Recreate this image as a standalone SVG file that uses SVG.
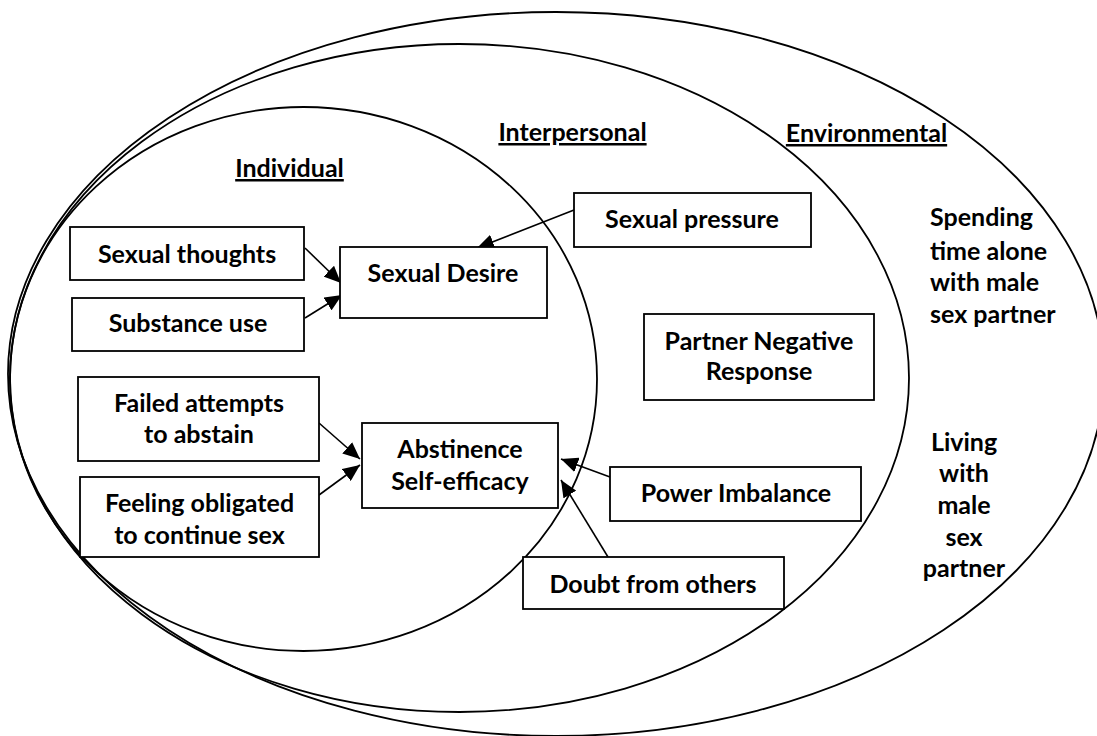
<svg xmlns="http://www.w3.org/2000/svg" width="1097" height="736" viewBox="0 0 1097 736">
<style>
.ring{fill:none;stroke:#000;stroke-width:1.8}
.box{fill:#fff;stroke:#000;stroke-width:1.8}
text{font-family:Lato,"Liberation Sans",sans-serif;font-weight:bold;font-size:25px;fill:#000}
.c{text-anchor:middle}
.h{text-decoration:underline}
.conn{stroke:#000;stroke-width:1.6;fill:none;marker-end:url(#ah)}
</style>
<defs>
<marker id="ah" markerUnits="userSpaceOnUse" markerWidth="17" markerHeight="15" viewBox="0 0 17 15" refX="17" refY="7.5" orient="auto">
<path d="M0,0 L17,7.5 L0,15 Z" fill="#000"/>
</marker>
</defs>
<rect width="1097" height="736" fill="#fff"/>
<g id="rings">
<ellipse id="environmental-ring" class="ring" cx="556" cy="374" rx="548" ry="362"/>
<ellipse id="interpersonal-ring" class="ring" cx="459.5" cy="378" rx="449.5" ry="334"/>
<ellipse id="individual-ring" class="ring" cx="303.5" cy="379" rx="293.5" ry="272"/>
</g>
<g id="headings">
<text class="c h" x="289.5" y="177">Individual</text>
<text class="c h" x="572.5" y="141">Interpersonal</text>
<text class="c h" x="866.5" y="142">Environmental</text>
</g>
<g id="connectors">
<line class="conn" x1="305" y1="248" x2="341" y2="283"/>
<line class="conn" x1="305" y1="318" x2="342" y2="295"/>
<line class="conn" x1="574" y1="210" x2="477" y2="248"/>
<line class="conn" x1="319" y1="423" x2="360" y2="459"/>
<line class="conn" x1="319" y1="495" x2="360" y2="465"/>
<line class="conn" x1="610" y1="477" x2="561" y2="459"/>
<line class="conn" x1="608" y1="557" x2="561" y2="480"/>
</g>
<g id="sexual-thoughts"><rect class="box" x="70" y="227" width="234" height="53"/><text class="c" x="187" y="263">Sexual thoughts</text></g>
<g id="substance-use"><rect class="box" x="72" y="298" width="232" height="53"/><text class="c" x="188" y="332">Substance use</text></g>
<g id="sexual-desire"><rect class="box" x="340" y="247" width="207" height="71"/><text class="c" x="443" y="282">Sexual Desire</text></g>
<g id="sexual-pressure"><rect class="box" x="574" y="193" width="237" height="54"/><text class="c" x="692" y="228">Sexual pressure</text></g>
<g id="failed-attempts"><rect class="box" x="78" y="377" width="241" height="84"/><text class="c" x="199" y="412">Failed attempts</text><text class="c" x="199" y="443">to abstain</text></g>
<g id="feeling-obligated"><rect class="box" x="80" y="477" width="239" height="80"/><text class="c" x="199.5" y="512">Feeling obligated</text><text class="c" x="199.5" y="544">to continue sex</text></g>
<g id="abstinence-self-efficacy"><rect class="box" x="362" y="423" width="196" height="85"/><text class="c" x="460" y="458">Abstinence</text><text class="c" x="460" y="490">Self-efficacy</text></g>
<g id="partner-negative-response"><rect class="box" x="644" y="314" width="230" height="86"/><text class="c" x="759" y="350">Partner Negative</text><text class="c" x="759" y="380">Response</text></g>
<g id="power-imbalance"><rect class="box" x="610" y="467" width="251" height="54"/><text class="c" x="736" y="502">Power Imbalance</text></g>
<g id="doubt-from-others"><rect class="box" x="523" y="557" width="261" height="52"/><text class="c" x="653" y="593">Doubt from others</text></g>
<g id="spending-time-alone">
<text x="930" y="226">Spending</text>
<text x="930" y="260">time alone</text>
<text x="930" y="291">with male</text>
<text x="930" y="323">sex partner</text>
</g>
<g id="living-with-partner">
<text class="c" x="964" y="451">Living</text>
<text class="c" x="964" y="482">with</text>
<text class="c" x="964" y="514">male</text>
<text class="c" x="964" y="546">sex</text>
<text class="c" x="964" y="577">partner</text>
</g>
</svg>
